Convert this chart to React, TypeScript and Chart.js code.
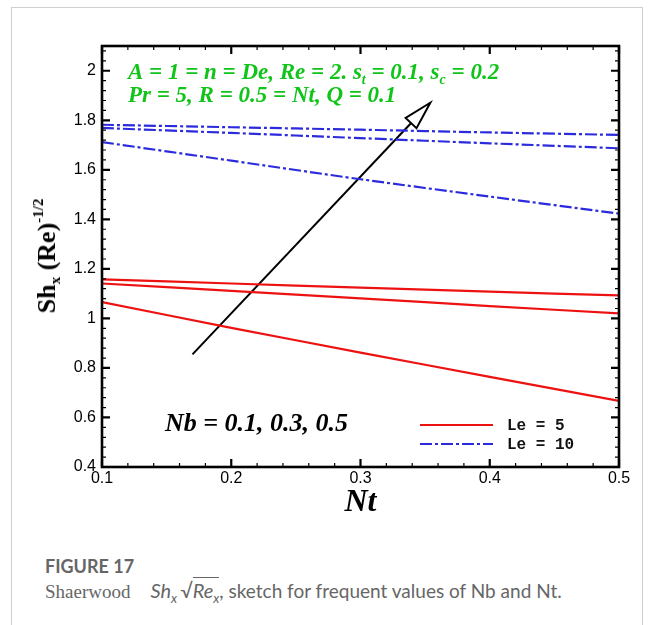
import React, { useEffect, useRef } from "react";
import { Chart, registerables } from "chart.js";
Chart.register(...registerables);

// ---------- data ----------
const nt = [0.1, 0.2, 0.3, 0.4, 0.5];
// Le = 5 (red, solid) for Nb = 0.1, 0.3, 0.5
const le5A = [1.158, 1.141, 1.124, 1.108, 1.093];
const le5B = [1.141, 1.111, 1.081, 1.050, 1.02];
const le5C = [1.066, 0.962, 0.862, 0.764, 0.667];
// Le = 10 (blue, dash-dot) for Nb = 0.1, 0.3, 0.5
const le10A = [1.782, 1.772, 1.762, 1.751, 1.741];
const le10B = [1.769, 1.749, 1.728, 1.707, 1.687];
const le10C = [1.712, 1.637, 1.562, 1.492, 1.423];
// arrow (Nb increasing)
const arrowTail = [0.17, 0.855];
const arrowTip = [0.354, 1.871];
// ticks
const xTicks = [0.1, 0.2, 0.3, 0.4, 0.5];
const yTicks = [0.4, 0.6, 0.8, 1.0, 1.2, 1.4, 1.6, 1.8, 2.0];
const xRange = [0.1, 0.5];
const yRange = [0.4, 2.1];

const RED = "#ee1111";
const BLUE = "#2b2bdd";
const GREEN = "#11c41a";
const DASHDOT = [12, 3, 3, 3];

const pts = (ys: number[]) => ys.map((v, i) => ({ x: nt[i], y: v }));

type Part = { t: string; sub?: boolean };

function drawRich(ctx: CanvasRenderingContext2D, x: number, y: number, parts: Part[], size: number) {
  let cx = x;
  for (const p of parts) {
    if (p.sub) {
      ctx.font = `italic bold ${Math.round(size * 0.6)}px "Liberation Serif"`;
      ctx.fillText(p.t, cx, y + size * 0.22);
    } else {
      ctx.font = `italic bold ${size}px "Liberation Serif"`;
      ctx.fillText(p.t, cx, y);
    }
    cx += ctx.measureText(p.t).width;
  }
}

const decorPlugin = {
  id: "decor",
  afterDatasetsDraw(chart: any) {
    const { ctx, chartArea: a, scales } = chart;
    const x = scales.x;
    const y = scales.y;
    ctx.save();

    // arrow head
    const tx = x.getPixelForValue(arrowTip[0]);
    const ty = y.getPixelForValue(arrowTip[1]);
    const sx = x.getPixelForValue(arrowTail[0]);
    const sy = y.getPixelForValue(arrowTail[1]);
    const ang = Math.atan2(ty - sy, tx - sx);
    const L = 28, W = 7.5;
    const bx = tx - L * Math.cos(ang), by = ty - L * Math.sin(ang);
    const px = -Math.sin(ang), py = Math.cos(ang);
    ctx.beginPath();
    ctx.moveTo(tx, ty);
    ctx.lineTo(bx + W * px, by + W * py);
    ctx.lineTo(bx - W * px, by - W * py);
    ctx.closePath();
    ctx.fillStyle = "#fff";
    ctx.fill();
    ctx.strokeStyle = "#000";
    ctx.lineWidth = 2;
    ctx.lineJoin = "miter";
    ctx.stroke();

    // ticks (inward, all four sides)
    ctx.strokeStyle = "#000";
    const tickX = (v: number, len: number, lw: number) => {
      const p = x.getPixelForValue(v);
      ctx.lineWidth = lw;
      ctx.beginPath();
      ctx.moveTo(p, a.bottom); ctx.lineTo(p, a.bottom - len);
      ctx.moveTo(p, a.top); ctx.lineTo(p, a.top + len);
      ctx.stroke();
    };
    const tickY = (v: number, len: number, lw: number) => {
      const p = y.getPixelForValue(v);
      ctx.lineWidth = lw;
      ctx.beginPath();
      ctx.moveTo(a.left, p); ctx.lineTo(a.left + len, p);
      ctx.moveTo(a.right, p); ctx.lineTo(a.right - len, p);
      ctx.stroke();
    };
    for (let i = 0; i <= 20; i++) {
      const v = xRange[0] + i * 0.02;
      if (i % 5 === 0) tickX(v, 8, 2.2); else tickX(v, 4, 1.2);
    }
    for (let i = 0; i <= 42; i++) {
      const v = yRange[0] + i * 0.04;
      if (v > yRange[1] + 1e-9) break;
      if (i % 5 === 0) tickY(v, 8, 2.2); else tickY(v, 4, 1.2);
    }

    // frame
    ctx.lineWidth = 2.6;
    ctx.strokeRect(a.left, a.top, a.right - a.left, a.bottom - a.top);

    // annotations
    ctx.textBaseline = "alphabetic";
    ctx.textAlign = "left";
    ctx.fillStyle = GREEN;
    drawRich(ctx, 128, 79, [
      { t: "A = 1 = n = De, Re = 2. s" }, { t: "t", sub: true }, { t: " = 0.1, s" }, { t: "c", sub: true }, { t: " = 0.2" },
    ], 23);
    drawRich(ctx, 128, 102, [{ t: "Pr = 5, R = 0.5 = Nt, Q = 0.1" }], 23);
    ctx.fillStyle = "#000";
    drawRich(ctx, 165, 431, [{ t: "Nb = 0.1, 0.3, 0.5" }], 26);

    // legend
    ctx.lineWidth = 2.2;
    ctx.strokeStyle = RED;
    ctx.setLineDash([]);
    ctx.beginPath(); ctx.moveTo(420, 425); ctx.lineTo(493, 425); ctx.stroke();
    ctx.strokeStyle = BLUE;
    ctx.setLineDash(DASHDOT);
    ctx.beginPath(); ctx.moveTo(420, 444); ctx.lineTo(493, 444); ctx.stroke();
    ctx.setLineDash([]);
    ctx.fillStyle = "#111";
    ctx.font = 'bold 16px "Liberation Mono"';
    ctx.textBaseline = "middle";
    ctx.fillText("Le = 5", 507, 426);
    ctx.fillText("Le = 10", 507, 445);
    ctx.restore();
  },
};

function ChartView() {
  const ref = useRef<HTMLCanvasElement>(null);
  useEffect(() => {
    if (!ref.current) return;
    const mk = (label: string, data: number[], color: string, dash: number[]) => ({
      label, data: pts(data), borderColor: color, borderWidth: 2.2, borderDash: dash,
      pointRadius: 0, fill: false, tension: 0.3,
    });
    const chart = new Chart(ref.current, {
      type: "line",
      data: {
        datasets: [
          mk("Le = 5, Nb = 0.1", le5A, RED, []),
          mk("Le = 5, Nb = 0.3", le5B, RED, []),
          mk("Le = 5, Nb = 0.5", le5C, RED, []),
          mk("Le = 10, Nb = 0.1", le10A, BLUE, DASHDOT),
          mk("Le = 10, Nb = 0.3", le10B, BLUE, DASHDOT),
          mk("Le = 10, Nb = 0.5", le10C, BLUE, DASHDOT),
          {
            label: "arrow", data: [{ x: arrowTail[0], y: arrowTail[1] }, { x: arrowTip[0], y: arrowTip[1] }],
            borderColor: "#000", borderWidth: 2, pointRadius: 0, fill: false,
          },
        ],
      },
      options: {
        animation: false,
        responsive: false,
        maintainAspectRatio: false,
        layout: { padding: { left: 0, top: 46, right: 35, bottom: 8 } },
        plugins: { legend: { display: false }, tooltip: { enabled: false } },
        scales: {
          x: {
            type: "linear", min: xRange[0], max: xRange[1],
            grid: { display: false, drawTicks: false },
            border: { display: false },
            afterBuildTicks: (s: any) => { s.ticks = xTicks.map((v) => ({ value: v })); },
            afterFit: (s: any) => { s.height = 55; },
            ticks: {
              padding: 2, color: "#000", maxRotation: 0,
              font: { family: "'Liberation Sans'", size: 16 },
              callback: (v: any) => String(+Number(v).toFixed(2)),
            },
            title: {
              display: true, text: "Nt", color: "#000", padding: 0,
              font: { family: "'Liberation Serif'", size: 32, style: "italic", weight: "bold" },
            },
          },
          y: {
            type: "linear", min: yRange[0], max: yRange[1],
            grid: { display: false, drawTicks: false },
            border: { display: false },
            afterBuildTicks: (s: any) => { s.ticks = yTicks.map((v) => ({ value: v })); },
            afterFit: (s: any) => { s.width = 102; },
            ticks: {
              padding: 6, color: "#000",
              font: { family: "'Liberation Sans'", size: 16 },
              callback: (v: any) => String(+Number(v).toFixed(2)),
            },
          },
        },
      },
      plugins: [decorPlugin],
    } as any);
    return () => chart.destroy();
  }, []);
  return <canvas ref={ref} width={654} height={530} style={{ position: "absolute", left: 0, top: 0, width: 654, height: 530 }} />;
}

export default function App() {
  return (
    <div style={{ position: "fixed", left: 0, top: 0, width: 654, height: 625, background: "#fff", overflow: "hidden" }}>
      <div style={{ position: "absolute", left: 11, top: 7, width: 630, height: 700, border: "1px solid #cfcfcf" }} />
      <ChartView />
      <div style={{ position: "absolute", left: 47, top: 256, width: 0, height: 0 }}>
        <div style={{ position: "absolute", left: 0, top: 0, transform: "translate(-50%,-50%) rotate(-90deg)", whiteSpace: "nowrap", font: 'bold 26px "Liberation Serif"', color: "#000", lineHeight: "30px" }}>
          Sh<sub style={{ fontSize: 15, verticalAlign: -5, lineHeight: 0 }}>x</sub> (Re)<sup style={{ fontSize: 15, verticalAlign: 12, lineHeight: 0 }}>-1/2</sup>
        </div>
      </div>
      <div style={{ position: "absolute", left: 45, top: 554, color: "#666", whiteSpace: "nowrap" }}>
        <div style={{ font: 'bold 18px Lato', lineHeight: "24px" }}>FIGURE 17</div>
        <div style={{ fontSize: 19, lineHeight: "24px", fontFamily: "Lato" }}>
          <span style={{ fontFamily: '"Liberation Serif"', fontSize: 19 }}>Shaerwood</span>
          <span style={{ fontStyle: "italic", marginLeft: 20, fontSize: 20 }}>Sh<sub style={{ fontSize: 13, lineHeight: 0 }}>x</sub></span>
          <span style={{ marginLeft: 3, fontSize: 20 }}>√</span>
          <span style={{ fontStyle: "italic", borderTop: "1px solid #666", fontSize: 20 }}>Re<sub style={{ fontSize: 13, lineHeight: 0 }}>x</sub></span>
          <span>, sketch for frequent values of Nb and Nt.</span>
        </div>
      </div>
    </div>
  );
}
